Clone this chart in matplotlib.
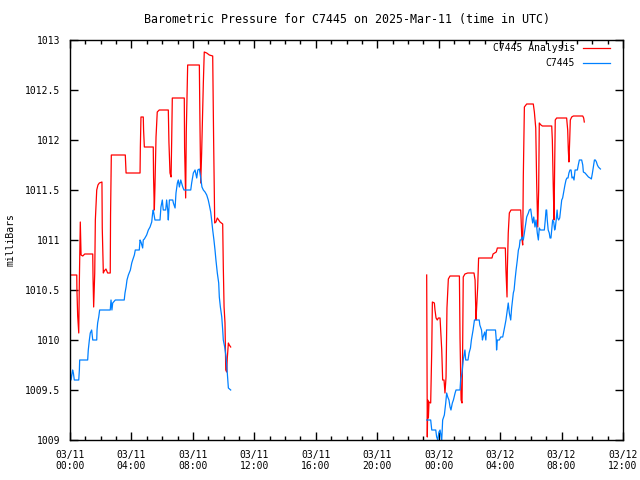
import numpy as np
import matplotlib
matplotlib.use("Agg")
import matplotlib.pyplot as plt

# hours since 2025-03-11 00:00 UTC, pressure in mb
ana_t1 = [0.00, 0.44, 0.45, 0.50, 0.57, 0.61, 0.67, 0.72, 0.83, 0.96, 1.48, 1.50, 1.54, 1.61,
          1.65, 1.74, 1.82, 1.91, 2.08, 2.10, 2.17, 2.23, 2.34, 2.45, 2.62, 2.64, 2.69, 3.60,
          3.65, 4.56, 4.58, 4.62, 4.77, 4.79, 4.84, 5.42, 5.44, 5.49, 5.53, 5.60, 5.68, 5.81,
          6.40, 6.44, 6.51, 6.58, 6.62, 6.66, 7.44, 7.46, 7.53, 7.57, 7.66, 8.42, 8.46, 8.51,
          8.57, 8.68, 8.74, 8.90, 9.07, 9.29, 9.35, 9.42, 9.50, 9.59, 9.77, 9.94, 9.98, 10.03,
          10.09, 10.14, 10.20, 10.24, 10.31, 10.37, 10.46]
ana_p1 = [1010.65, 1010.65, 1010.51, 1010.24, 1010.07, 1010.60, 1011.18, 1010.85, 1010.84,
          1010.86, 1010.86, 1010.62, 1010.33, 1010.67, 1011.20, 1011.50, 1011.55, 1011.57,
          1011.58, 1011.12, 1010.67, 1010.69, 1010.71, 1010.67, 1010.67, 1011.25, 1011.85,
          1011.85, 1011.67, 1011.67, 1011.93, 1012.23, 1012.23, 1012.10, 1011.93, 1011.93,
          1011.63, 1011.30, 1011.53, 1012.03, 1012.28, 1012.30, 1012.30, 1011.98, 1011.67,
          1011.63, 1012.00, 1012.42, 1012.42, 1011.92, 1011.42, 1012.08, 1012.75, 1012.75,
          1012.17, 1011.57, 1011.87, 1012.57, 1012.88, 1012.87, 1012.85, 1012.84, 1012.00,
          1011.17, 1011.18, 1011.22, 1011.18, 1011.16, 1010.73, 1010.33, 1010.17, 1009.70,
          1009.68, 1009.82, 1009.97, 1009.95, 1009.93]

ana_t2 = [23.22, 23.24, 23.26, 23.29, 23.33, 23.37, 23.48, 23.55, 23.59, 23.72, 23.76, 23.83,
          23.91, 23.98, 24.09, 24.20, 24.26, 24.35, 24.41, 24.48, 24.54, 24.63, 24.74, 25.35,
          25.39, 25.46, 25.52, 25.56, 25.60, 25.71, 25.89, 26.30, 26.37, 26.43, 26.48, 26.54,
          26.60, 27.47, 27.54, 27.75, 27.82, 28.34, 28.38, 28.45, 28.47, 28.53, 28.60, 28.71,
          29.34, 29.36, 29.41, 29.47, 29.51, 29.58, 29.73, 30.16, 30.23, 30.32, 30.38, 30.45,
          30.51, 30.55, 30.66, 30.75, 31.36, 31.40, 31.46, 31.51, 31.55, 31.59, 31.68, 32.33,
          32.40, 32.44, 32.48, 32.53, 32.57, 32.66, 32.77, 33.38, 33.44, 33.48]
ana_p2 = [1010.65, 1009.83, 1009.03, 1009.40, 1009.22, 1009.38, 1009.37, 1009.90, 1010.38,
          1010.37, 1010.30, 1010.22, 1010.20, 1010.22, 1010.22, 1009.90, 1009.60, 1009.60,
          1009.47, 1009.63, 1010.32, 1010.61, 1010.64, 1010.64, 1010.02, 1009.40, 1009.37,
          1009.90, 1010.63, 1010.66, 1010.67, 1010.67, 1010.60, 1010.20, 1010.35, 1010.53,
          1010.82, 1010.82, 1010.86, 1010.88, 1010.92, 1010.92, 1010.70, 1010.43, 1010.70,
          1011.07, 1011.27, 1011.30, 1011.30, 1011.23, 1011.03, 1010.95, 1011.63, 1012.33,
          1012.36, 1012.36, 1012.28, 1012.12, 1011.57, 1011.13, 1011.50, 1012.17, 1012.15,
          1012.14, 1012.14, 1012.00, 1011.53, 1011.20, 1011.73, 1012.20, 1012.22, 1012.22,
          1012.10, 1011.90, 1011.78, 1012.00, 1012.20, 1012.23, 1012.24, 1012.24, 1012.22,
          1012.18]

obs_t1 = [0.00, 0.07, 0.17, 0.22, 0.28, 0.57, 0.61, 0.63, 1.15, 1.19, 1.26, 1.32, 1.41, 1.48,
          1.74, 1.76, 1.80, 1.87, 1.93, 2.62, 2.67, 2.73, 2.78, 2.95, 3.53, 3.58, 3.65, 3.71,
          3.80, 3.93, 4.02, 4.08, 4.19, 4.25, 4.51, 4.56, 4.62, 4.73, 4.77, 4.84, 4.99, 5.10,
          5.21, 5.32, 5.38, 5.42, 5.53, 5.86, 5.92, 6.01, 6.07, 6.23, 6.29, 6.36, 6.40, 6.47,
          6.69, 6.73, 6.84, 6.90, 6.99, 7.05, 7.12, 7.21, 7.34, 7.42, 7.86, 7.92, 8.03, 8.14,
          8.25, 8.32, 8.42, 8.46, 8.53, 8.59, 8.68, 8.79, 8.90, 9.00, 9.07, 9.16, 9.22, 9.29,
          9.37, 9.44, 9.50, 9.59, 9.68, 9.72, 9.79, 9.88, 9.94, 9.98, 10.07, 10.16, 10.24,
          10.31, 10.46]
obs_p1 = [1009.70, 1009.60, 1009.70, 1009.67, 1009.60, 1009.60, 1009.70, 1009.80, 1009.80,
          1009.90, 1010.00, 1010.07, 1010.10, 1010.00, 1010.00, 1010.10, 1010.17, 1010.23,
          1010.30, 1010.30, 1010.40, 1010.30, 1010.37, 1010.40, 1010.40, 1010.47, 1010.53,
          1010.60, 1010.65, 1010.70, 1010.77, 1010.80, 1010.85, 1010.90, 1010.90, 1011.00,
          1010.98, 1010.92, 1011.00, 1011.01, 1011.05, 1011.10, 1011.13, 1011.18, 1011.27,
          1011.30, 1011.20, 1011.20, 1011.33, 1011.40, 1011.30, 1011.30, 1011.40, 1011.30,
          1011.20, 1011.40, 1011.40, 1011.37, 1011.32, 1011.47, 1011.57, 1011.60, 1011.53,
          1011.60, 1011.53, 1011.50, 1011.50, 1011.57, 1011.67, 1011.70, 1011.62, 1011.70,
          1011.71, 1011.67, 1011.60, 1011.53, 1011.50, 1011.48, 1011.45, 1011.40, 1011.35,
          1011.28, 1011.20, 1011.10, 1011.00, 1010.90, 1010.80, 1010.67, 1010.57, 1010.43,
          1010.33, 1010.23, 1010.10, 1010.00, 1009.93, 1009.83, 1009.67, 1009.52, 1009.50]

obs_t2 = [23.22, 23.48, 23.55, 23.81, 23.87, 23.94, 24.02, 24.09, 24.20, 24.26, 24.37, 24.46,
          24.52, 24.59, 24.67, 24.74, 24.80, 24.89, 24.96, 25.07, 25.13, 25.39, 25.43, 25.52,
          25.60, 25.71, 25.76, 25.91, 25.98, 26.07, 26.13, 26.24, 26.33, 26.64, 26.68, 26.79,
          26.85, 26.89, 27.00, 27.07, 27.11, 27.70, 27.75, 27.77, 27.82, 27.95, 28.04, 28.17,
          28.26, 28.32, 28.38, 28.47, 28.53, 28.60, 28.69, 28.75, 28.86, 28.91, 28.97, 29.04,
          29.12, 29.19, 29.25, 29.30, 29.36, 29.43, 29.51, 29.58, 29.67, 29.73, 29.84, 29.90,
          29.99, 30.06, 30.12, 30.19, 30.27, 30.34, 30.42, 30.49, 30.55, 30.62, 30.88, 30.94,
          30.99, 31.03, 31.07, 31.13, 31.20, 31.25, 31.31, 31.36, 31.42, 31.49, 31.55, 31.59,
          31.65, 31.71, 31.75, 31.81, 31.88, 31.94, 32.01, 32.07, 32.16, 32.22, 32.29, 32.35,
          32.42, 32.48, 32.55, 32.62, 32.68, 32.75, 32.81, 32.88, 33.03, 33.09, 33.16, 33.31,
          33.38, 33.42, 33.53, 33.64, 33.75, 33.86, 33.94, 34.01, 34.07, 34.14, 34.20, 34.27,
          34.33, 34.40, 34.46, 34.53]
obs_p2 = [1009.20, 1009.20, 1009.10, 1009.10, 1009.03, 1009.00, 1009.08, 1009.10, 1009.00,
          1009.20, 1009.25, 1009.37, 1009.47, 1009.43, 1009.40, 1009.33, 1009.30, 1009.37,
          1009.40, 1009.47, 1009.50, 1009.50, 1009.60, 1009.67, 1009.80, 1009.90, 1009.80,
          1009.80, 1009.87, 1009.92, 1010.00, 1010.10, 1010.20, 1010.20, 1010.15, 1010.10,
          1010.00, 1010.03, 1010.08, 1010.00, 1010.10, 1010.10, 1010.00, 1009.90, 1010.00,
          1010.00, 1010.03, 1010.03, 1010.10, 1010.15, 1010.20, 1010.30, 1010.37, 1010.27,
          1010.20, 1010.32, 1010.47, 1010.50, 1010.60, 1010.70, 1010.80, 1010.90, 1010.93,
          1011.00, 1011.00, 1011.03, 1011.00, 1011.07, 1011.17, 1011.23, 1011.27, 1011.30,
          1011.31, 1011.23, 1011.17, 1011.23, 1011.13, 1011.20, 1011.07, 1011.00, 1011.12,
          1011.10, 1011.10, 1011.20, 1011.30, 1011.30, 1011.20, 1011.10, 1011.07, 1011.02,
          1011.02, 1011.10, 1011.20, 1011.18, 1011.10, 1011.12, 1011.20, 1011.30, 1011.22,
          1011.20, 1011.22, 1011.30, 1011.40, 1011.42, 1011.50, 1011.55, 1011.60, 1011.62,
          1011.62, 1011.67, 1011.70, 1011.70, 1011.62, 1011.63, 1011.60, 1011.70, 1011.70,
          1011.75, 1011.80, 1011.80, 1011.75, 1011.68, 1011.67, 1011.65, 1011.63, 1011.62,
          1011.61, 1011.67, 1011.73, 1011.80, 1011.80, 1011.78, 1011.75, 1011.73, 1011.72,
          1011.71]

xticks = [0, 4, 8, 12, 16, 20, 24, 28, 32, 36]
xlabels = ["03/11\n00:00", "03/11\n04:00", "03/11\n08:00", "03/11\n12:00", "03/11\n16:00",
           "03/11\n20:00", "03/12\n00:00", "03/12\n04:00", "03/12\n08:00", "03/12\n12:00"]
yticks = [1009, 1009.5, 1010, 1010.5, 1011, 1011.5, 1012, 1012.5, 1013]
ylabels = ["1009", "1009.5", "1010", "1010.5", "1011", "1011.5", "1012", "1012.5", "1013"]

plt.rcParams['font.family'] = ['DejaVu Sans Mono']
plt.rcParams['font.size'] = 7

red = '#ff0000'
blue = '#0080ff'
lw = 0.9

fig = plt.figure(figsize=(6.4, 4.8), dpi=100)
ax = fig.add_axes([70 / 640, 40 / 480, 553 / 640, 400 / 480])

ax.plot(ana_t1, ana_p1, color=red, lw=lw)
ax.plot(ana_t2, ana_p2, color=red, lw=lw)
ax.plot(obs_t1, obs_p1, color=blue, lw=lw)
ax.plot(obs_t2, obs_p2, color=blue, lw=lw)

ax.set_xlim(0, 36)
ax.set_ylim(1009, 1013)
ax.set_xticks(xticks)
ax.set_xticklabels(xlabels)
ax.set_xticks(range(0, 37), minor=True)
ax.set_yticks(yticks)
ax.set_yticklabels(ylabels)
ax.tick_params(which='both', direction='in', top=True, right=True, width=1, colors='black')
ax.tick_params(which='major', length=6)
ax.tick_params(which='minor', length=3)
ax.tick_params(axis='x', pad=7)
ax.tick_params(axis='y', pad=7)
for s in ax.spines.values():
    s.set_linewidth(1)

ax.set_title("Barometric Pressure for C7445 on 2025-Mar-11 (time in UTC)", pad=12)
ax.set_ylabel("milliBars", labelpad=7)

# legend, gnuplot style: text right aligned, sample to the right
ax.text(0.913, 0.980, "C7445 Analysis", transform=ax.transAxes, ha='right', va='center')
ax.plot([0.928, 0.976], [0.980, 0.980], color=red, lw=lw, transform=ax.transAxes)
ax.text(0.913, 0.9425, "C7445", transform=ax.transAxes, ha='right', va='center')
ax.plot([0.928, 0.976], [0.9425, 0.9425], color=blue, lw=lw, transform=ax.transAxes)

fig.savefig("out.png", dpi=100)
